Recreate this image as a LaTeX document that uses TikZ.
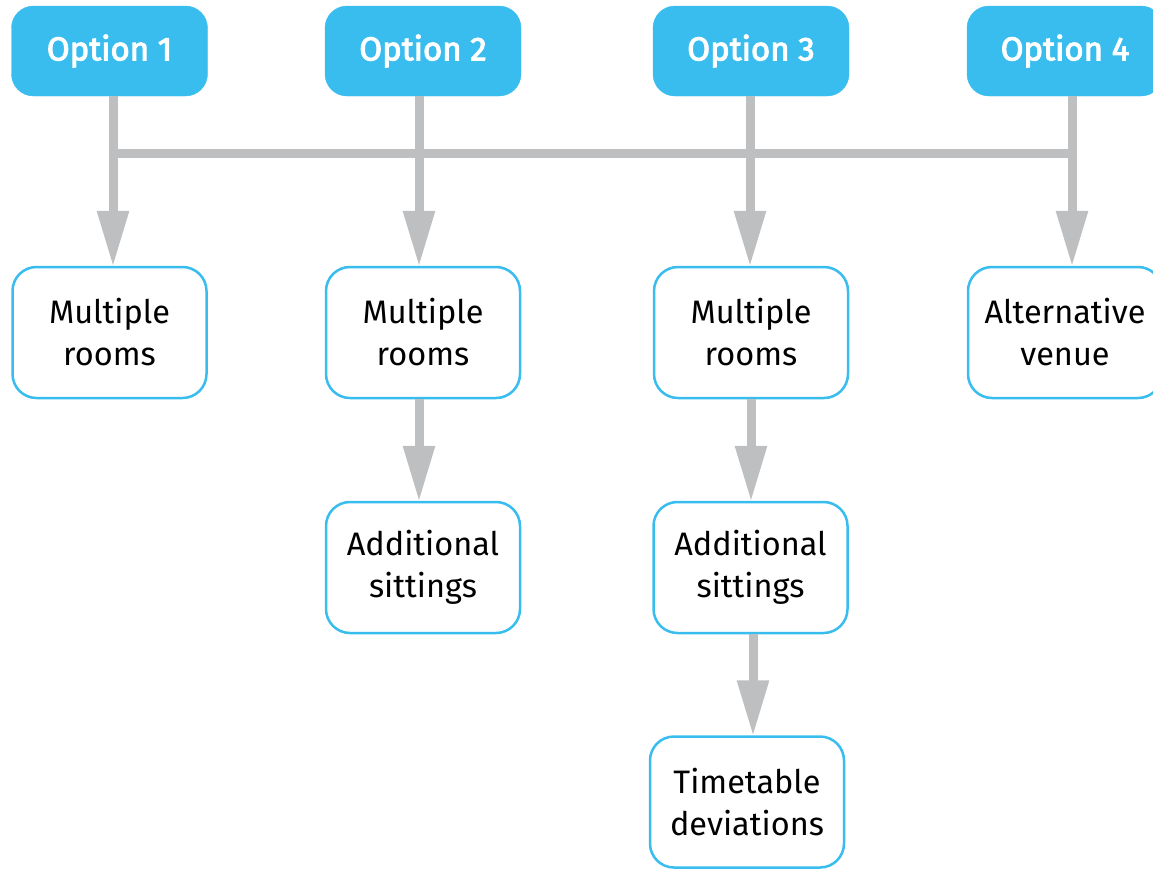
\documentclass[tikz,border=0pt]{standalone}
\usepackage{fontspec}
\setmainfont{Fira Sans}
\newfontfamily\optfont{Fira Sans}[FakeBold=3]
\usetikzlibrary{arrows.meta}
\definecolor{optblue}{RGB}{56,189,238}
\definecolor{linegray}{RGB}{190,191,193}
\tikzset{
  optbox/.style={fill=optblue, draw=optblue, rounded corners=22pt, minimum width=196pt, minimum height=90pt, inner sep=0pt, text=white, font=\optfont\fontsize{33}{40}\selectfont},
  itembox/.style={fill=white, draw=optblue, line width=2.5pt, rounded corners=24pt, minimum width=194pt, minimum height=131pt, inner sep=0pt, align=center, text=black, font=\fontsize{32.5}{42}\selectfont},
  conn/.style={draw=linegray, line width=9pt},
  arr/.style={conn, -{Triangle[length=56pt,width=30pt]}, shorten >=-1pt}
}
\begin{document}
\begin{tikzpicture}[x=1pt,y=-1pt]
\useasboundingbox (0,0) rectangle (1153,868);
% top options
\node[optbox] (o1) at (109.5,51) {Option 1};
\node[optbox] (o2) at (423,51) {Option 2};
\node[optbox] (o3) at (751,51) {Option 3};
\node[optbox] (o4) at (1065,51) {Option 4};
% arrow x positions
\coordinate (c1) at (113,153);
\coordinate (c2) at (419,153);
\coordinate (c3) at (750,153);
\coordinate (c4) at (1072,153);
% second row
\node[itembox] (m1) at (109.5,332.5) {Multiple\\rooms};
\node[itembox] (m2) at (423,332.5) {Multiple\\rooms};
\node[itembox] (m3) at (751,332.5) {Multiple\\rooms};
\node[itembox] (m4) at (1065,332.5) {Alternative\\venue};
% third row
\node[itembox] (a2) at (423,567.5) {Additional\\sittings};
\node[itembox] (a3) at (750.5,567.5) {Additional\\sittings};
% fourth row
\node[itembox] (t3) at (747,802) {Timetable\\deviations};
% connectors
\draw[conn] ([xshift=-4.5pt]c1) -- ([xshift=4.5pt]c4);
\draw[arr] (o1.south -| c1) -- (m1.north -| c1);
\draw[arr] (o2.south -| c2) -- (m2.north -| c2);
\draw[arr] (o3.south -| c3) -- (m3.north -| c3);
\draw[arr] (o4.south -| c4) -- (m4.north -| c4);
\coordinate (d2) at (419,0);
\coordinate (d3) at (751,0);
\draw[arr] (m2.south -| d2) -- (a2.north -| d2);
\draw[arr] (m3.south -| d3) -- (a3.north -| d3);
\coordinate (e3) at (753,0);
\draw[arr] (a3.south -| e3) -- (t3.north -| e3);
\end{tikzpicture}
\end{document}
